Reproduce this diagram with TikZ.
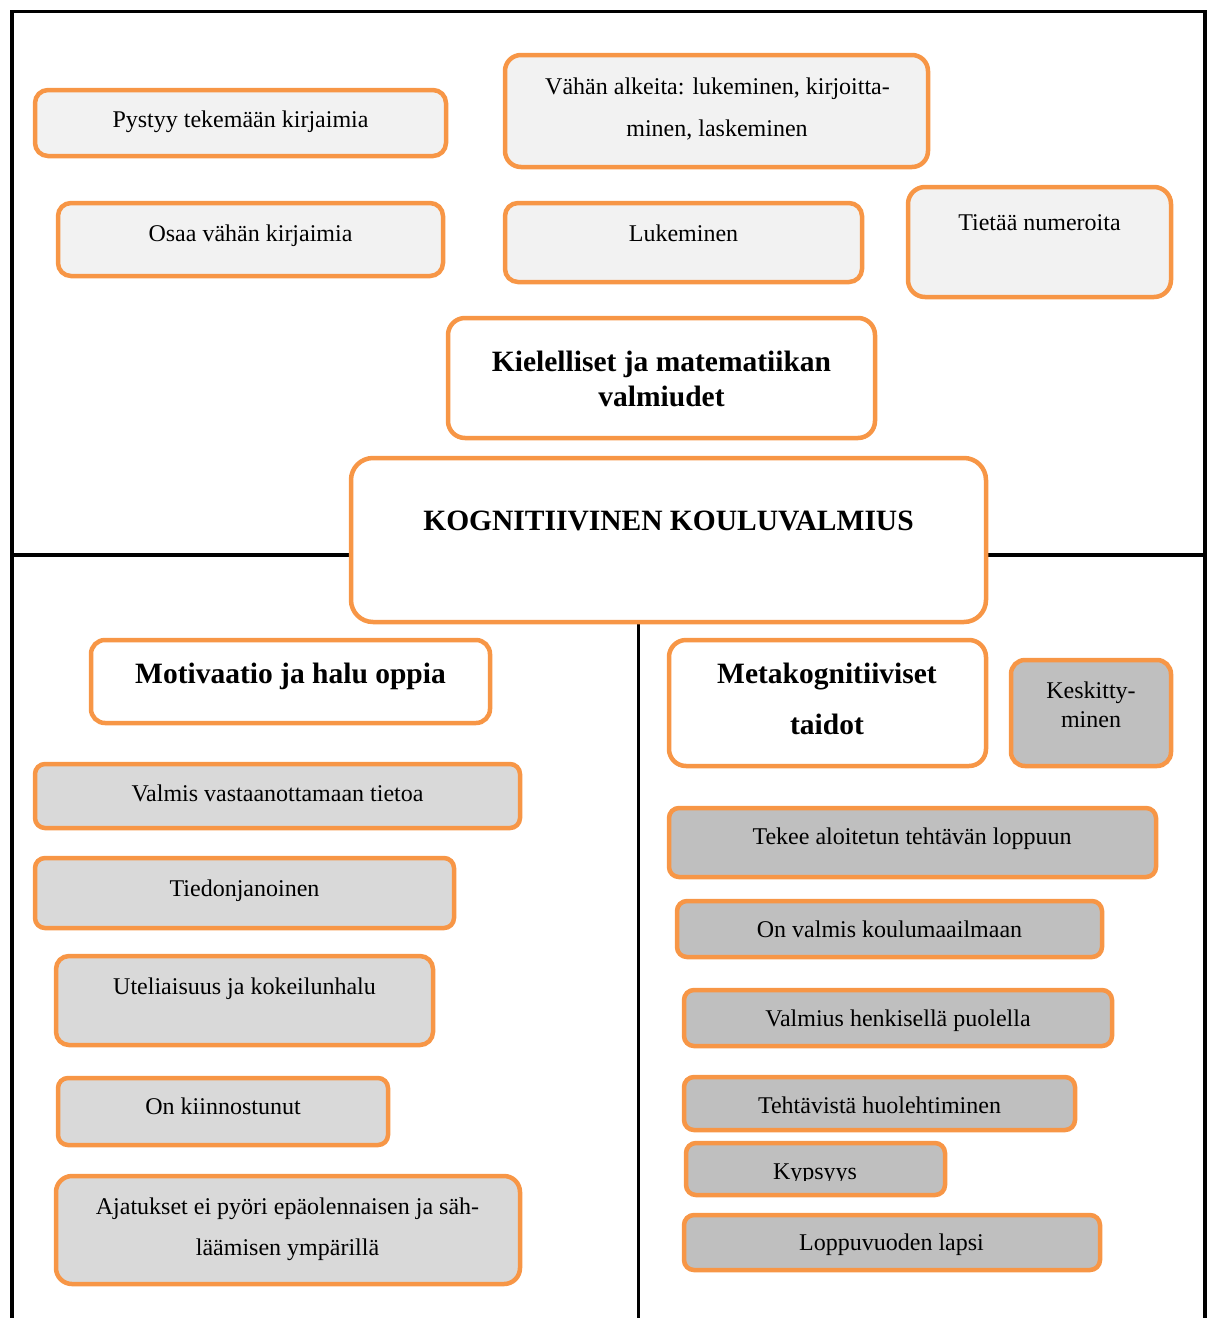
\documentclass[tikz,border=0pt]{standalone}
\usepackage{fontspec}
\setmainfont{Liberation Serif}
\definecolor{orng}{HTML}{F79646}
\definecolor{fillA}{HTML}{F2F2F2}
\definecolor{fillB}{HTML}{D9D9D9}
\definecolor{fillC}{HTML}{BFBFBF}
\tikzset{
  frameline/.style={line width=3.5pt, black},
  bx/.style={draw=orng, line width=4.5pt, rounded corners=13pt},
  bigbx/.style={bx, rounded corners=17pt, fill=white},
  boxA/.style={bx, fill=fillA},
  boxB/.style={bx, fill=fillB},
  boxC/.style={bx, fill=fillC, rounded corners=10pt},
  txt/.style={anchor=base, inner sep=0pt, font=\fontsize{24}{29}\selectfont},
  head/.style={anchor=base, inner sep=0pt, font=\bfseries\fontsize{29.5}{35}\selectfont},
}
\begin{document}
\begin{tikzpicture}[x=1pt, y=-1pt]
\useasboundingbox (0,0) rectangle (1212,1318);

% frame lines
\draw[frameline] (10,11.5) -- (1207,11.5);
\draw[frameline] (12,10) -- (12,1318);
\draw[frameline] (1205,10) -- (1205,1318);
\draw[frameline] (10,555) -- (353,555);
\draw[frameline] (984,555) -- (1207,555);
\draw[frameline] (638.5,622) -- (638.5,1318);

% upper area: language and mathematics
\draw[boxA] (35,90) rectangle (446,156);
\node[txt] (pystyy) at (240.5,127) {Pystyy tekemään kirjaimia};

\draw[boxA, rounded corners=16pt] (505,55) rectangle (928,167);
\node[txt] (vahan1) at (717.5,94) {Vähän alkeita: lukeminen, kirjoitta-};
\node[txt] (vahan2) at (717,136) {minen, laskeminen};

\draw[boxA] (58,203) rectangle (443,276);
\node[txt] (osaa) at (250.5,241) {Osaa vähän kirjaimia};

\draw[boxA] (505,203) rectangle (862,282);
\node[txt] (lukem) at (683.5,241) {Lukeminen};

\draw[boxA, rounded corners=17pt] (908,187) rectangle (1171,297);
\node[txt] (tietaa) at (1039.5,230) {Tietää numeroita};

\draw[bigbx] (448,318) rectangle (875,438);
\node[head] (kiel1) at (661.5,371) {Kielelliset ja matematiikan};
\node[head] (kiel2) at (661.5,406) {valmiudet};

% centre
\draw[bigbx, rounded corners=22pt] (351,458) rectangle (986,622);
\node[head] (kogn) at (668.5,530) {KOGNITIIVINEN KOULUVALMIUS};

% lower left: motivation
\draw[bigbx, rounded corners=14pt] (91,640) rectangle (490,723);
\node[head] (motiv) at (290.5,683) {Motivaatio ja halu oppia};

\draw[boxB, rounded corners=10pt] (35,764) rectangle (520,828);
\node[txt] (valmis) at (277.5,801) {Valmis vastaanottamaan tietoa};

\draw[boxB, rounded corners=10pt] (35,858) rectangle (454,928);
\node[txt] (tiedon) at (244.5,896) {Tiedonjanoinen};

\draw[boxB] (56,956) rectangle (433,1045);
\node[txt] (utel) at (244.5,994) {Uteliaisuus ja kokeilunhalu};

\draw[boxB, rounded corners=10pt] (58,1078) rectangle (388,1145);
\node[txt] (kiinn) at (223,1114) {On kiinnostunut};

\draw[boxB, rounded corners=16pt] (56,1176) rectangle (520,1284);
\node[txt] (ajat1) at (287.5,1214) {Ajatukset ei pyöri epäolennaisen ja säh-};
\node[txt] (ajat2) at (287.5,1255) {läämisen ympärillä};

% lower right: metacognitive skills
\draw[bigbx] (669,640) rectangle (986,766);
\node[head] (meta1) at (827,683) {Metakognitiiviset};
\node[head] (meta2) at (827,734) {taidot};

\draw[boxC, rounded corners=14pt] (1011,660) rectangle (1171,766);
\node[txt] (kesk1) at (1091,698) {Keskitty-};
\node[txt] (kesk2) at (1091,727) {minen};

\draw[boxC] (669,808) rectangle (1156,877);
\node[txt] (tekee) at (912,844) {Tekee aloitetun tehtävän loppuun};

\draw[boxC] (677,901) rectangle (1102,957);
\node[txt] (onvalm) at (889.5,937) {On valmis koulumaailmaan};

\draw[boxC] (684,990) rectangle (1112,1046);
\node[txt] (valmius) at (898,1026) {Valmius henkisellä puolella};

\draw[boxC] (684,1077) rectangle (1075,1130);
\node[txt] (tehtav) at (879.5,1113) {Tehtävistä huolehtiminen};

\draw[boxC] (686,1143) rectangle (945,1195);
\begin{scope}
  \clip (686,1140) rectangle (945,1180);
  \node[txt] (kyps) at (815,1179) {Kypsyys};
\end{scope}

\draw[boxC] (684,1215) rectangle (1100,1270);
\node[txt] (loppu) at (891.5,1250) {Loppuvuoden lapsi};
\end{tikzpicture}
\end{document}
